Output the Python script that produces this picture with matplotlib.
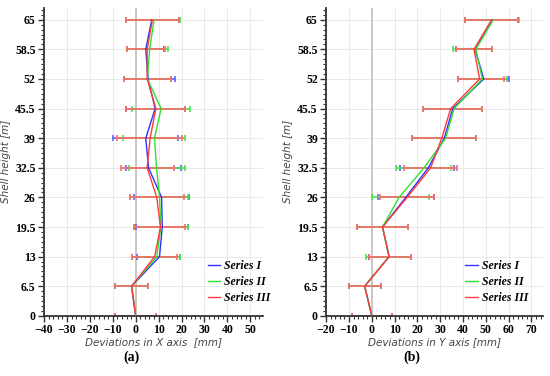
import matplotlib
matplotlib.use("Agg")
from matplotlib import pyplot as plt
from matplotlib.ticker import MultipleLocator, AutoMinorLocator
import numpy as np

heights = [0, 6.5, 13, 19.5, 26, 32.5, 39, 45.5, 52, 58.5, 65]
height_labels = ['0', '6.5', '13', '19.5', '26', '32.5', '39', '45.5', '52', '58.5', '65']
series_names = ['Series I', 'Series II', 'Series III']

# deviations in X axis [mm]: centre, left end, right end of error bar
x_dev = {
    'Series I':   [0, -1.8, 10.4, 11.6, 11.3, 5.6, 4.4, 8.5, 5.4, 4.4, 7.0],
    'Series II':  [0, -1.8, 9.2, 11.0, 10.4, 9.1, 8.2, 11.1, 5.1, 6.1, 8.0],
    'Series III': [0, -1.8, 8.3, 10.8, 9.2, 5.0, 6.3, 8.8, 5.0, 5.0, 7.3],
}
x_low = {
    'Series I':   [-8.9, -8.9, 0.4, 0.1, -0.9, -4.4, -9.7, -4.2, -5.3, -3.7, -4.1],
    'Series II':  [-8.9, -8.9, -1.5, -0.9, -2.5, -2.9, -5.6, -1.6, -5.3, -3.7, -4.1],
    'Series III': [-8.9, -8.9, -1.5, -0.9, -2.5, -6.3, -8.0, -4.2, -5.3, -3.7, -4.1],
}
x_high = {
    'Series I':   [8.8, 5.4, 19.2, 22.7, 23.4, 19.8, 18.6, 21.7, 17.3, 12.3, 19.0],
    'Series II':  [8.8, 5.4, 19.2, 22.7, 22.7, 21.4, 21.7, 23.7, 15.4, 14.3, 19.3],
    'Series III': [8.8, 5.4, 17.9, 21.4, 20.9, 16.8, 20.1, 21.7, 15.4, 12.6, 19.0],
}

# deviations in Y axis [mm]
y_dev = {
    'Series I':   [0, -3.1, 7.6, 4.7, 14.9, 24.8, 31.8, 35.5, 49.1, 45.3, 52.6],
    'Series II':  [0, -3.1, 7.6, 4.7, 12.0, 22.9, 32.4, 36.1, 48.5, 45.6, 53.3],
    'Series III': [0, -3.1, 7.6, 4.7, 15.5, 25.8, 30.7, 34.6, 47.3, 44.8, 52.6],
}
y_low = {
    'Series I':   [-8.5, -10.2, -1.2, -6.6, 2.9, 12.3, 17.5, 22.3, 37.8, 36.8, 40.9],
    'Series II':  [-8.5, -10.2, -2.6, -6.6, 0.0, 10.5, 17.5, 22.3, 37.8, 35.8, 40.9],
    'Series III': [-8.5, -10.2, -1.2, -6.6, 3.8, 14.3, 17.5, 22.3, 37.8, 36.8, 40.9],
}
y_high = {
    'Series I':   [8.9, 4.1, 17.2, 15.8, 27.4, 36.1, 45.7, 48.3, 60.0, 52.8, 63.9],
    'Series II':  [8.9, 4.1, 17.2, 15.8, 25.1, 34.6, 45.7, 48.3, 59.4, 52.8, 64.5],
    'Series III': [8.9, 4.1, 17.2, 15.8, 27.4, 37.2, 45.7, 48.3, 57.8, 52.8, 63.9],
}

colors = {'Series I': '#3030ff', 'Series II': '#30e030', 'Series III': '#ff3a3a'}
ecolors = {'Series I': '#6060ff', 'Series II': '#50e050', 'Series III': '#ff6a6a'}

plt.rcParams['font.family'] = 'Liberation Serif'

fig = plt.figure(figsize=(5.5, 3.76), dpi=100)
ax1 = fig.add_axes([0.08, 0.16, 0.398, 0.819])
ax2 = fig.add_axes([0.593, 0.16, 0.394, 0.819])


def draw(ax, dev, low, high, xlim, xlabel, leg_x):
    ax.axvline(0, color='#c8c8c8', lw=1.4, zorder=1)
    for name in series_names:
        c = np.array(dev[name])
        err = [c - np.array(low[name]), np.array(high[name]) - c]
        ax.errorbar(c, heights, xerr=err, fmt='none', ecolor=ecolors[name],
                    elinewidth=1.2, capsize=2.5, capthick=1.2, zorder=2)
    for name in series_names:
        ax.plot(dev[name], heights, color=colors[name], lw=1.0, label=name, zorder=3)
    ax.set_xlim(*xlim)
    ax.set_ylim(0, 67.6)
    ax.set_yticks(heights)
    ax.set_yticklabels(height_labels)
    ax.xaxis.set_major_locator(MultipleLocator(10))
    ax.xaxis.set_minor_locator(MultipleLocator(2))
    ax.yaxis.set_minor_locator(AutoMinorLocator(6))
    ax.grid(True, which='major', color='#e6e6e6', lw=0.6)
    ax.set_axisbelow(True)
    for s in ['top', 'right']:
        ax.spines[s].set_visible(False)
    for s in ['left', 'bottom']:
        ax.spines[s].set_color('#333333')
        ax.spines[s].set_linewidth(1.3)
    ax.tick_params(which='major', length=4, width=1, color='#333333', labelsize=8.5, pad=2)
    ax.tick_params(which='minor', length=2, width=0.8, color='#333333')
    for lab in ax.get_xticklabels() + ax.get_yticklabels():
        lab.set_fontweight('bold')
    ax.set_xlabel(xlabel, fontsize=7.5, style='italic', color='#444444',
                  family='DejaVu Sans', labelpad=1)
    ax.set_ylabel('Shell height [m]', fontsize=7.5, style='italic', color='#444444',
                  family='DejaVu Sans', labelpad=3)
    ax.legend(loc='center left', bbox_to_anchor=(leg_x, 0.11), frameon=False,
              borderpad=0, handlelength=1.1, handletextpad=0.3, labelspacing=0.32,
              prop={'family': 'Liberation Serif', 'weight': 'bold',
                    'style': 'italic', 'size': 8.5})


draw(ax1, x_dev, x_low, x_high, (-40, 55.5), 'Deviations in X axis  [mm]', 0.72)
draw(ax2, y_dev, y_low, y_high, (-20, 75), 'Deviations in Y axis [mm]', 0.615)

fig.text(0.24, 0.04, '(a)', fontsize=10, fontweight='bold', ha='center')
fig.text(0.749, 0.04, '(b)', fontsize=10, fontweight='bold', ha='center')

fig.savefig('out.png', dpi=100)
